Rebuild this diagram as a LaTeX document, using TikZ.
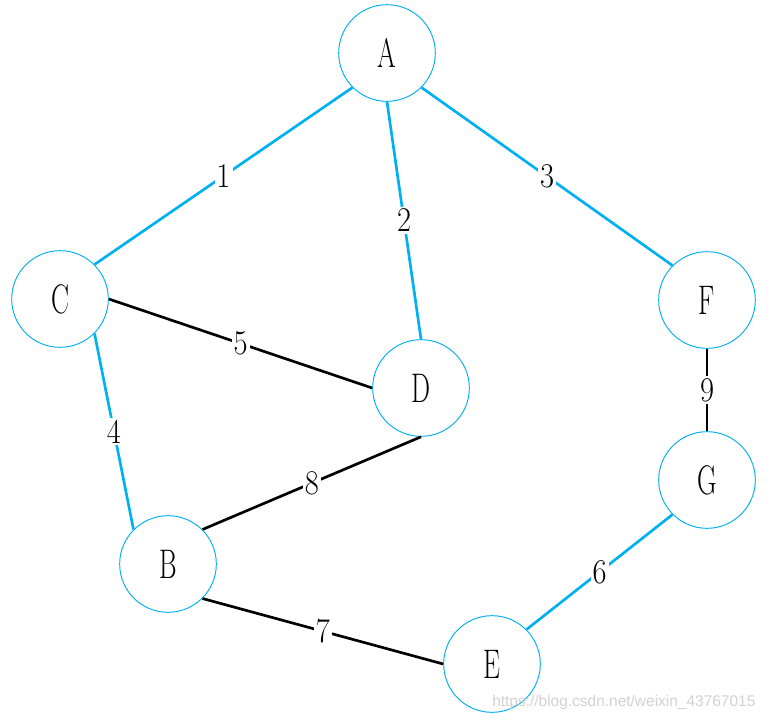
\documentclass[tikz,border=0pt]{standalone}
\usepackage{fontspec}
\usepackage{graphicx}
\definecolor{edgeblue}{RGB}{0,176,240}
\newfontfamily\markfont{Liberation Sans}
\newcommand{\vname}[1]{\scalebox{0.65}[1]{#1}}
\newcommand{\wname}[1]{\scalebox{0.88}[1]{#1}}

\begin{document}
\begin{tikzpicture}[
    x=0.75pt, y=-0.75pt,
    vertex/.style={circle, draw=edgeblue, line width=0.7pt, fill=white,
                   minimum size=72.5pt, inner sep=0pt,
                   font=\fontsize{31}{31}\selectfont},
    tree/.style={draw=edgeblue, line width=2pt},
    plain/.style={draw=black, line width=2pt},
    weight/.style={midway, fill=white, inner sep=1.5pt,
                   font=\fontsize{26}{26}\selectfont}
]
\fill[white] (0,0) rectangle (772,721);
\useasboundingbox (0,0) rectangle (772,721);

% Vertices
\node[vertex] (A) at (387,53) {\vname{A}};
\node[vertex] (C) at (60,299) {\vname{C}};
\node[vertex] (D) at (421,388) {\vname{D}};
\node[vertex] (F) at (707,300) {\vname{F}};
\node[vertex] (G) at (707,480) {\vname{G}};
\node[vertex] (B) at (168,564) {\vname{B}};
\node[vertex] (E) at (492,664) {\vname{E}};

% Edges of the tree
\draw[tree] (A.south west) -- node[weight] {\wname{1}} (C.north east);
\draw[tree] (A.south) -- node[weight] {\wname{2}} (D.north);
\draw[tree] (A.south east) -- node[weight] {\wname{3}} (F.north west);
\draw[tree] (C.south east) -- node[weight] {\wname{4}} (B.north west);
\draw[tree] (E.north east) -- node[weight] {\wname{6}} (G.south west);

% Other edges
\draw[plain] (C.east) -- node[weight] {\wname{5}} (D.west);
\draw[plain] (B.south east) -- node[weight] {\wname{7}} (E.west);
\draw[plain] (D.south) -- node[weight] {\wname{8}} (B.north east);
\draw[plain] (F.south) -- node[weight] {\wname{9}} (G.north);

% Watermark
\node[anchor=west, text=gray!35, inner sep=0pt,
      font=\markfont\fontsize{11.6}{11.6}\selectfont] (mark) at (492,702)
      {https://blog.csdn.net/weixin\_43767015};

\end{tikzpicture}
\end{document}
